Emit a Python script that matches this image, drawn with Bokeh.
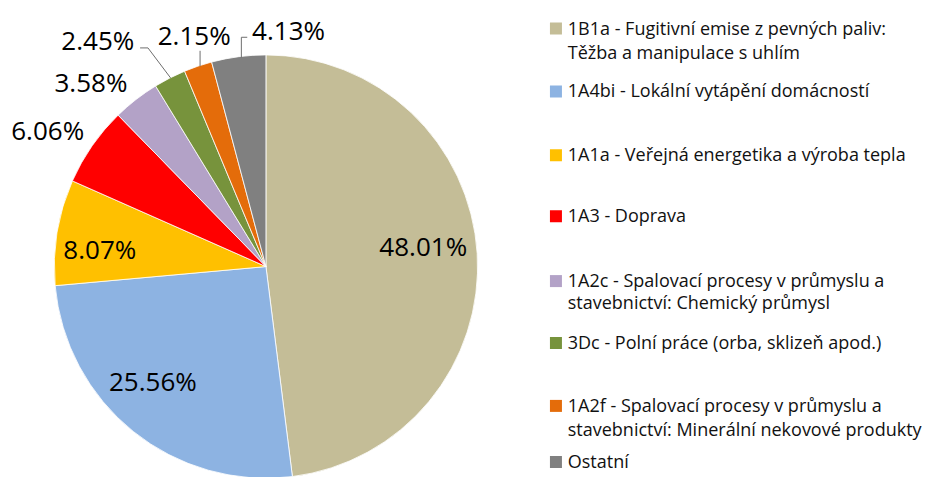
import math
from bokeh.plotting import figure
from bokeh.models import ColumnDataSource, Range1d
from bokeh.core.properties import value
from bokeh.embed import file_html
from bokeh.resources import INLINE

# ---- data ----
categories = [
    "1B1a - Fugitivní emise z pevných paliv:\nTěžba a manipulace s uhlím",
    "1A4bi - Lokální vytápění domácností",
    "1A1a - Veřejná energetika a výroba tepla",
    "1A3 - Doprava",
    "1A2c - Spalovací procesy v průmyslu a\nstavebnictví: Chemický průmysl",
    "3Dc - Polní práce (orba, sklizeň apod.)",
    "1A2f - Spalovací procesy v průmyslu a\nstavebnictví: Minerální nekovové produkty",
    "Ostatní",
]
shares = [48.01, 25.56, 8.07, 6.06, 3.58, 2.45, 2.15, 4.13]
colors = ["#C4BD97", "#8DB3E2", "#FFC000", "#FF0000", "#B3A2C7", "#77933C", "#E46C0A", "#808080"]

# ---- layout (positions measured on the 946x493 reference) ----
W, H = 930, 477
SX, SY = W / 946, H / 493
def X(sx):
    return sx * SX
def Y(sy):
    return H - sy * SY

cx, cy, R = 270, 275, 217 * (SX + SY) / 2
label_pos = [(430, 254), (155, 393), (101, 257), (48, 134), (92, 84), (99, 41), (197, 36), (293, 31)]
leaders = [
    None, None, None, None, None,
    [(142, 49), (150, 49), (173, 80)],
    [(203, 52), (203, 68)],
    [(251, 38), (245, 38), (245, 59)],
]
legend_rows = [(28, 25), (93, 0), (159, 0), (222, 0), (289, 23), (353, 0), (418, 25), (476, 0)]

p = figure(width=W, height=H, x_range=Range1d(0, W), y_range=Range1d(0, H),
           output_backend="svg", toolbar_location=None, min_border=0)
p.axis.visible = False
p.grid.visible = False
p.outline_line_color = None
p.background_fill_color = "white"

total = sum(shares)
starts, ends = [], []
cum = 0.0
for s in shares:
    a0 = math.pi / 2 - cum / total * 2 * math.pi
    cum += s
    a1 = math.pi / 2 - cum / total * 2 * math.pi
    starts.append(a0)
    ends.append(a1)

src = ColumnDataSource(dict(x=[X(cx)] * len(shares), y=[Y(cy)] * len(shares),
                            start=starts, end=ends, color=colors))
p.wedge(x="x", y="y", radius=R, start_angle="start", end_angle="end", direction="clock",
        fill_color="color", line_color="white", line_width=0.8, source=src)

# leader lines
for ld in leaders:
    if ld:
        p.line([X(a) for a, b in ld], [Y(b) for a, b in ld], line_color="#6E6E6E", line_width=1)

# percent labels
labels = [f"{s:.2f}%" for s in shares]
p.text(x=[X(a) for a, b in label_pos], y=[Y(b) for a, b in label_pos], text=labels,
       text_align="center", text_baseline="middle", text_font=value("Open Sans"),
       text_font_size="26px", text_color="black")

# legend
sq_x, txt_x = 565, 577
for cat, col, (ry, dy) in zip(categories, colors, legend_rows):
    p.rect(x=[X(sq_x)], y=[Y(ry + 1)], width=12, height=12, fill_color=col, line_color=None)
    lines = cat.split("\n")
    for i, ln in enumerate(lines):
        p.text(x=[X(txt_x)], y=[Y(ry + i * dy)], text=[ln], text_align="left", text_baseline="middle",
               text_font=value("Open Sans"), text_font_size="18px", text_color="#111111")

open("out.html", "w").write(file_html(p, INLINE))
